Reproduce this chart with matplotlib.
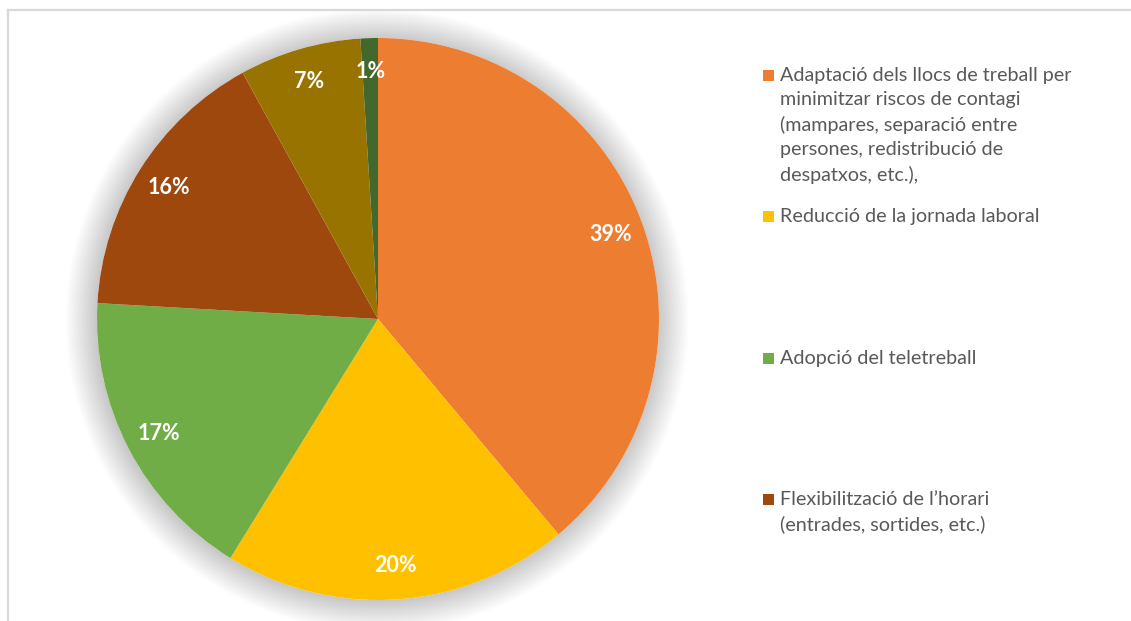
import matplotlib.pyplot as plt
from matplotlib.lines import Line2D
from matplotlib.patches import Circle, Rectangle

# data (share of responses, %)
labels = [
    "Adaptació dels llocs de treball per\nminimitzar riscos de contagi\n(mampares, separació entre\npersones, redistribució de\ndespatxos, etc.),",
    "Reducció de la jornada laboral",
    "Adopció del teletreball",
    "Flexibilització de l\u2019horari\n(entrades, sortides, etc.)",
    "Altres mesures",
    "Cap mesura",
]
values = [38.9, 19.9, 17.1, 16.1, 7.0, 1.0]
colors = ["#ED7D31", "#FFC000", "#70AD47", "#9E480E", "#997300", "#43682B"]
n_legend = 4  # the legend is cut off after four entries

plt.rcParams['font.family'] = ['Lato', 'DejaVu Sans']

W, H = 1131, 621
fig = plt.figure(figsize=(W / 100, H / 100), dpi=100)

# pie centre and radius in pixels
cx, cy, r = 378, 319, 281
lim = 1.15
ax = fig.add_axes([(cx - r * lim) / W, (H - cy - r * lim) / H,
                   2 * r * lim / W, 2 * r * lim / H])

# soft shadow behind the pie
for i in range(28):
    ax.add_patch(Circle((-0.003, -0.004), 1.0 + i * 0.004, color='#000000',
                        alpha=0.006, lw=0, zorder=0))
ax.add_patch(Circle((0, 0), 1.0, color='white', lw=0, zorder=0.5))

wedges, texts, autotexts = ax.pie(
    values, colors=colors, startangle=90, counterclock=False,
    autopct=lambda p: f"{p:.0f}%", pctdistance=0.88, radius=1.0,
    wedgeprops=dict(linewidth=0),
    textprops=dict(color='white', fontsize=15.5, fontweight='bold'))
for w in wedges:
    w.set_zorder(1)
for t in autotexts:
    t.set_zorder(2)
ax.set_xlim(-lim, lim)
ax.set_ylim(-lim, lim)
ax.set_aspect('equal')
ax.axis('off')

# legend, entries spread evenly like the original
x_mark, x_text = 763, 780
y_first, pitch = 75, 141.3
for i in range(n_legend):
    y = y_first + i * pitch
    fig.add_artist(Rectangle((x_mark / W, 1 - (y + 6) / H), 11 / W, 11 / H,
                             transform=fig.transFigure, color=colors[i], lw=0))
    fig.text(x_text / W, 1 - (y - 8) / H, labels[i], ha='left', va='top',
             fontsize=14.2, color='#595959', linespacing=1.52)

# chart area border (only top and left edges visible)
bc = '#D9D9D9'
fig.add_artist(Line2D([8 / W, 1], [1 - 10 / H, 1 - 10 / H], color=bc, lw=1.6))
fig.add_artist(Line2D([8 / W, 8 / W], [0, 1 - 10 / H], color=bc, lw=1.6))

fig.savefig('out.png', dpi=100, facecolor='white')
